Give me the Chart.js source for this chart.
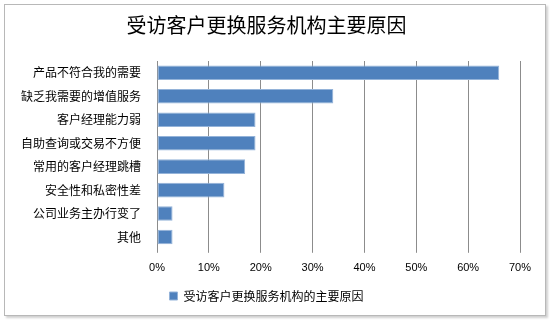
<!DOCTYPE html>
<html>
<head>
<meta charset="utf-8">
<script src="https://cdn.jsdelivr.net/npm/chart.js@4/dist/chart.umd.min.js"></script>
<style>
  html, body { margin: 0; padding: 0; background: #fff; }
  #wrap {
    position: absolute; left: 4px; top: 4px;
    width: 540px; height: 310px;
    border: 1px solid #b8b8b8;
    box-shadow: 2px 2px 2px #d0d0d0;
    background: #fff;
  }
</style>
</head>
<body>
<div id="wrap"><canvas id="bar-graph" width="540" height="310"></canvas></div>
<script>
const titleText = '受访客户更换服务机构主要原因';
const seriesName = '受访客户更换服务机构的主要原因';
const reasons = [
  '产品不符合我的需要',
  '缺乏我需要的增值服务',
  '客户经理能力弱',
  '自助查询或交易不方便',
  '常用的客户经理跳槽',
  '安全性和私密性差',
  '公司业务主办行变了',
  '其他'
];
const shares = [66, 34, 19, 19, 17, 13, 3, 3];
const tickMax = 70;
const tickStep = 10;

const cjk = '"Noto Sans CJK SC", "Noto Sans", sans-serif';

const ctx = document.getElementById('bar-graph');
new Chart(ctx, {
  type: 'bar',
  data: {
    labels: reasons,
    datasets: [{
      label: seriesName,
      data: shares,
      backgroundColor: '#4f81bd',
      borderColor: '#94b3d9',
      borderWidth: 1,
      borderSkipped: false,
      categoryPercentage: 1.0,
      barPercentage: 0.62
    }]
  },
  options: {
    indexAxis: 'y',
    responsive: false,
    animation: false,
    layout: { padding: { left: 8, right: 25, top: 2, bottom: 3 } },
    plugins: {
      title: {
        display: true,
        text: titleText,
        color: '#000',
        font: { family: cjk, size: 20, weight: 'normal' },
        padding: { top: 6, bottom: 24 }
      },
      legend: {
        position: 'bottom',
        labels: {
          color: '#000',
          font: { family: cjk, size: 12 },
          boxWidth: 8,
          boxHeight: 8,
          padding: 6
        }
      },
      tooltip: { enabled: false }
    },
    scales: {
      x: {
        min: 0,
        max: tickMax,
        ticks: {
          stepSize: tickStep,
          color: '#000',
          font: { family: 'Arial, "Liberation Sans", sans-serif', size: 11 },
          padding: 9,
          callback: v => v + '%'
        },
        grid: {
          color: '#8c8c8c',
          lineWidth: 1,
          drawTicks: true,
          tickLength: 4
        },
        border: { display: false }
      },
      y: {
        ticks: {
          color: '#000',
          font: { family: cjk, size: 12 },
          padding: 8
        },
        grid: { display: false },
        border: { display: true, color: '#8c8c8c' }
      }
    }
  }
});
</script>
</body>
</html>
